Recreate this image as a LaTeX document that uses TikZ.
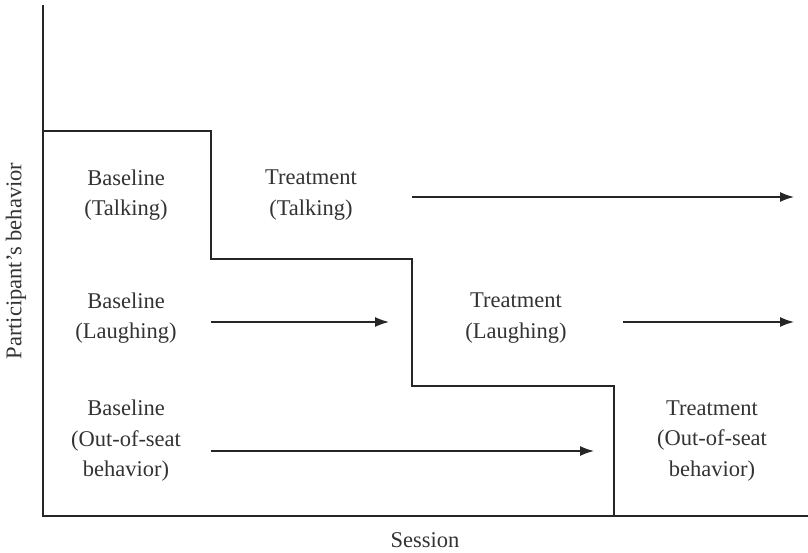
\documentclass[tikz,border=0pt]{standalone}
\usepackage{fontspec}
\setmainfont{Liberation Serif}
\usetikzlibrary{arrows.meta}
\begin{document}
\begin{tikzpicture}[x=1pt,y=-1pt,
  line/.style={line width=1.5pt, draw=black!85},
  arr/.style={line width=1.5pt, draw=black!85, -{Latex[length=14pt,width=10pt]}},
  lbl/.style={align=center, font=\fontsize{22.5}{30.5}\selectfont, text=black!80, inner sep=0pt}]
\useasboundingbox (0,0) rectangle (808,553);
% axes
\coordinate (ytop) at (43,5);
\coordinate (orig) at (43,516);
\coordinate (xend) at (808,516);
\draw[line width=1.2pt, black!85] (ytop) -- (orig) -- (xend);
% step line
\coordinate (s0) at (43,131);
\coordinate (s1) at (211,131);
\coordinate (s2) at (211,259);
\coordinate (s3) at (412,259);
\coordinate (s4) at (412,386);
\coordinate (s5) at (614,386);
\coordinate (s6) at (614,516);
\coordinate (s7) at (808,516);
\draw[line] (s0) -- (s1) -- (s2) -- (s3) -- (s4) -- (s5) -- (s6) -- (s7);
% labels
\node[lbl] (bt) at (126,195) {Baseline\\(Talking)};
\node[lbl] (tt) at (311,195) {Treatment\\(Talking)};
\node[lbl] (bl) at (126,318) {Baseline\\(Laughing)};
\node[lbl] (tl) at (516,318) {Treatment\\(Laughing)};
\node[lbl] (bo) at (126,441) {Baseline\\(Out-of-seat\\behavior)};
\node[lbl] (to) at (712,441) {Treatment\\(Out-of-seat\\behavior)};
\node[lbl] (xl) at (425,540) {Session};
\node[lbl, rotate=90] (yl) at (16,261) {Participant’s behavior};
% arrows
\coordinate (a1s) at (412,197); \coordinate (a1e) at (794,197);
\coordinate (a2s) at (211,322); \coordinate (a2e) at (389,322);
\coordinate (a3s) at (623,322); \coordinate (a3e) at (794,322);
\coordinate (a4s) at (211,451); \coordinate (a4e) at (594,451);
\draw[arr] (a1s) -- (a1e);
\draw[arr] (a2s) -- (a2e);
\draw[arr] (a3s) -- (a3e);
\draw[arr] (a4s) -- (a4e);
\end{tikzpicture}
\end{document}
